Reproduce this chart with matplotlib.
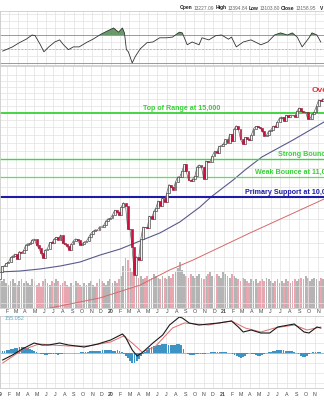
import numpy as np
import pandas as pd
import matplotlib
matplotlib.use("Agg")
import matplotlib.pyplot as plt
import matplotlib.transforms as mtrans

plt.rcParams['font.family'] = ['Liberation Sans', 'DejaVu Sans']

# weekly closes (week ending Friday), first week ends 2018-12-28
closes = [6584.5,
    6738.9, 6971.5, 7157.2, 7164.9, 7263.9, 7298.2, 7472.4, 7527.5, 7595.4, 7408.1,
    7688.5, 7642.7, 7729.3, 7938.7, 7984.2, 7998.1, 8146.4, 8164.0, 7916.9, 7816.3,
    7637.0, 7453.2, 7742.1, 7796.7, 8031.7, 8006.2, 8161.8, 8244.1, 8146.5, 8330.2,
    8004.1, 7959.1, 7896.0, 7751.8, 7962.9, 8103.1, 8176.7, 8117.7, 7939.6, 7982.5,
    8057.0, 8089.5, 8243.1, 8386.4, 8475.3, 8540.8, 8519.9, 8665.5, 8656.5, 8734.9,
    8925.0, 9006.6,
    9020.8, 9178.9, 9388.9, 9314.9, 9150.9, 9520.5, 9731.2, 9576.6, 8567.4, 8575.6,
    7874.9, 6879.5, 7502.4, 7373.1, 8153.6, 8650.1, 8634.5, 8605.0, 9121.3, 9014.6,
    9324.6, 9489.9, 9814.1, 9588.8, 9946.1, 9757.2, 10207.6, 10617.4, 10503.2, 10363.2,
    10745.3, 11011.0, 11019.3, 11311.8, 11695.6, 11313.1, 10853.6, 10793.3, 10913.6, 11075.0,
    11579.9, 11671.6, 11548.3, 10911.6, 11895.2, 11829.3, 11855.0, 12205.9, 12464.2, 12377.9,
    12755.6, 12804.7, 12888.3,
    13202.0, 12998.5, 13543.1, 13070.7, 13856.3, 14095.5, 13874.5, 13192.4, 12920.2, 13319.9,
    13215.2, 13138.7, 13480.1, 13900.2, 14052.3, 14016.8, 13962.7, 13752.2, 13430.0, 13471.0,
    13748.7, 13814.5, 14069.4, 14030.4, 14360.4, 14639.3, 14701.9, 14427.2, 14837.0, 14672.7,
    14835.8, 14822.9, 14714.7, 15129.5, 15363.5, 15115.5, 15044.0, 15047.7, 14566.7, 14579.5,
    14897.3, 15090.2, 15498.4, 15971.6, 15861.0, 16057.4]

# weekly volume, billions of shares
volume = [11, 12, 13, 14, 15, 13, 12, 14, 15, 13, 12, 14, 15, 13,
          14, 13, 12, 15, 14, 12, 13, 11, 14, 15, 13, 12, 14, 13,
          15, 14, 12, 13, 14, 12, 11, 13, 12, 14, 13, 12, 11, 13,
          12, 13, 14, 12, 11, 13, 15, 14, 13, 12, 14, 15, 13, 14,
          13, 15, 17, 22, 26, 25, 21, 19, 17, 18, 16, 17, 15, 16,
          17, 15, 16, 18, 17, 16, 15, 17, 16, 15, 17, 16, 18, 19,
          21, 24, 20, 18, 17, 16, 18, 17, 16, 17, 18, 16, 15, 17,
          18, 19, 17, 16, 18, 17, 16, 19, 18, 17, 16, 18, 17, 16,
          15, 14, 16, 15, 14, 13, 15, 14, 15, 13, 14, 15, 14, 16,
          15, 14, 13, 14, 15, 13, 14, 13, 15, 14, 13, 14, 15, 14,
          15, 16, 15, 17, 16, 14, 15, 16, 15, 14, 16, 15]

# MACD histogram, one bar per week
macd_hist = [15, 20,
    20, 25, 30, 35, 40,
    45, 50, 55, 60, 60, 60, 55, 50, 40,
    30, 20, 10, 0, -5,
    -10, -15, -15, -10, -10, -5, -10, -15, -10, -5, 0,
    0, 3, 5, 5, 5, 3, 5,
    10, 10, 15, 15, 20, 20, 20, 25, 25, 25, 30, 30, 30, 30, 30, 25, 25, 30, 20,
    10, -10, -30, -50,
    -80, -100, -100, -80, -60, -30, -10,
    10, 30, 50, 60, 70, 70, 80, 80, 90, 90, 90, 80, 80, 80, 80, 90, 90, 80, 40, 0,
    -10, -15, -20, -15, -10, -10, -5, -10, -5, 0,
    5, 10, 10, 15, 15, 10, 10, 15, 10, 5, 0, -10,
    -20, -30, -40, -50, -40, -30, -10,
    0, -5, -10,
    -20, -30, -30, -20, -10, 0,
    10, 15, 20, 25, 30, 30, 30, 30, 25, 25, 20, 20, 10, 5,
    -10, -30, -40, -40, -30, -10,
    5, 10, 15, 15, 10]

# RSI(14), position in months from Jan 2019
rsi_x = [0.29, 1.35, 2.09, 2.83, 3.47, 3.79, 4.32, 4.74, 5.27, 5.91, 6.44, 6.86, 7.39,
         7.92, 8.56, 9.3, 10.04, 10.89, 11.63, 12.27, 12.8, 13.22, 13.44, 13.65, 13.86,
         14.28, 14.6, 15.13, 15.87, 16.51, 17.25, 18.0, 18.63, 19.37, 19.69, 20.22, 20.75,
         21.5, 21.81, 22.55, 23.3, 23.93, 24.68, 25.0, 25.52, 26.27, 27.1, 28.18, 28.92,
         29.66, 30.3, 31.04, 31.57, 32.1, 32.63, 33.37, 33.69, 34.22, 34.64]
rsi_v = [47, 53, 59, 64, 70, 69, 57, 46, 53, 60, 63, 56, 49,
         53, 53, 59, 64, 71, 76, 80, 74, 80, 73, 49, 46,
         30, 39, 50, 59, 60, 66, 66, 67, 74, 73, 56, 60,
         56, 66, 63, 69, 70, 64, 67, 53, 60, 63, 56, 60,
         70, 73, 70, 73, 67, 53, 66, 73, 70, 60]

# MACD line and signal
macd_x = [0.29, 1.35, 2.41, 3.68, 4.53, 5.27, 6.44, 7.39, 9.09, 10.57, 11.95, 13.22, 13.54,
          14.28, 14.81, 15.45, 16.51, 17.57, 18.31, 19.37, 19.69, 20.43, 21.49, 22.55, 23.62,
          25.0, 25.74, 26.27, 27.12, 28.18, 29.13, 29.98, 31.78, 32.84, 33.37, 34.22, 34.64]
macd_v = [-70, -20, 40, 100, 80, 80, 100, 80, 60, 90, 130, 190, 160,
          30, -30, 10, 100, 180, 280, 360, 350, 300, 280, 290, 300,
          320, 260, 210, 230, 200, 200, 260, 290, 210, 200, 260, 250]
sig_x = [0.29, 2.41, 4.21, 5.59, 7.39, 9.51, 11.95, 13.33, 14.28, 15.34, 16.72, 18.63,
         19.9, 21.18, 22.55, 23.62, 25.0, 26.48, 28.18, 29.66, 31.78, 33.16, 34.64]
sig_v = [-100, 30, 90, 80, 70, 70, 110, 170, 100, 10, 60, 250,
         300, 290, 280, 300, 320, 250, 210, 250, 280, 230, 260]

# moving averages
ma_long_x = [0.29, 2.41, 4.53, 6.65, 8.77, 10.89, 13.01, 15.13, 17.25, 19.37, 21.49,
             22.66, 25.0, 26.27, 28.07, 31.36, 34.64]
ma_long_v = [6970, 7000, 7070, 7170, 7310, 7560, 7780, 8090, 8410, 8870, 9530,
             10000, 10850, 11390, 12130, 13160, 14350]
ma_xlong_x = [4.53, 5.06, 10.89, 15.13, 18.31, 20.75, 26.8, 32.1, 34.64]
ma_xlong_v = [5750, 5830, 6150, 6540, 7040, 7380, 8410, 9390, 9900]

levels = [15000, 12000, 11000, 10000]
level_labels = ['Top of Range at 15,000', 'Strong Bounce at 12,000',
                'Weak Bounce at 11,000', 'Primary Support at 10,000']

header = [('Open', '13227.09'), ('High', '13394.84'), ('Low', '13103.80'),
          ('Close', '13158.95')]

base = pd.Timestamp('2019-01-01')
weeks = pd.date_range('2018-12-28', periods=len(closes), freq='W-FRI')
wx = ((weeks - base).days.values - 2) / 30.437
months = pd.date_range('2019-01-01', '2021-12-01', freq='MS')
mx = (months - base).days.values / 30.437
mlab = []
for d in months:
    if d.month == 1:
        mlab.append(str(d.year)[2:])
    else:
        mlab.append('JFMAMJJASOND'[d.month - 1])

XL = (0.29, 34.64)
grid_c = '#e2e2e2'
green = '#36d236'

fig = plt.figure(figsize=(3.24, 4.0), dpi=100)
ax_r = fig.add_axes([0, 1 - 65 / 400, 1, 54 / 400])
ax_m = fig.add_axes([0, 1 - 308 / 400, 1, 242 / 400])
ax_d = fig.add_axes([0, 1 - 388 / 400, 1, 72 / 400])

for a in (ax_r, ax_m, ax_d):
    a.set_xlim(*XL)
    a.set_xticks(mx)
    a.tick_params(length=0, labelbottom=False, labelleft=False)
    a.grid(True, color=grid_c, lw=0.5)
    a.set_axisbelow(True)
    for s in a.spines.values():
        s.set_color('#cccccc')
        s.set_linewidth(0.6)

# ---- RSI panel
ax_r.set_ylim(27.1, 104.3)
ax_r.set_yticks([40, 50, 60, 80, 90, 100])
ax_r.axhline(70, color='#999999', lw=0.7)
ax_r.axhline(30, color='#999999', lw=0.7)
ax_r.axhline(50, color='#aaaaaa', lw=0.5, ls=(0, (3, 2)))
rv = np.array(rsi_v, dtype=float)
ax_r.fill_between(rsi_x, rv, 70, where=rv > 70, interpolate=True, color='#4f8a4f', alpha=0.85, lw=0)
ax_r.plot(rsi_x, rv, color='#333333', lw=0.6)

# ---- price panel
ax_m.set_yscale('log')
ax_m.set_ylim(5858, 18794)
ax_m.yaxis.set_minor_locator(plt.NullLocator())
ax_m.set_yticks([6000, 6500, 7000, 7500, 8000, 8500, 9000, 9500, 10500, 11500, 12500,
                 13000, 13500, 14000, 14500, 15500, 16000, 16500, 17000, 17500, 18000])

ax_v = ax_m.twinx()
ax_v.set_ylim(0, 127)
ax_v.set_xlim(*XL)
ax_v.axis('off')
c = np.array(closes)
up = np.r_[True, c[1:] >= c[:-1]]
vcol = np.where(up, '#b4b4b4', '#eaa6b0')
ax_v.bar(wx, volume, width=0.19, color=vcol, lw=0)
ax_v.set_zorder(ax_m.get_zorder())
ax_m.set_zorder(ax_v.get_zorder() + 1)
ax_m.patch.set_visible(False)

ax_m.plot(ma_long_x, ma_long_v, color='#5a5a8c', lw=0.8)
ax_m.plot(ma_xlong_x, ma_xlong_v, color='#d46a6a', lw=0.7)

ax_m.axhline(levels[0], color=green, lw=1.3)
ax_m.axhline(levels[1], color='#3ed83e', lw=1.0)
ax_m.axhline(levels[2], color='#5ee05e', lw=0.9)
ax_m.axhline(levels[3], color='#1c1ca8', lw=1.5)

o = c[:-1]
cl = c[1:]
lo = np.minimum(o, cl)
hi = np.maximum(o, cl)
dn = cl < o
ax_m.plot(wx, c, color='#666666', lw=0.5, zorder=2)
ax_m.bar(wx[1:][~dn], (hi - lo)[~dn], bottom=lo[~dn], width=0.2,
         color='#f4f4f4', edgecolor='#3a3a3a', lw=0.45, zorder=3)
ax_m.bar(wx[1:][dn], (hi - lo)[dn], bottom=lo[dn], width=0.2,
         color='#cf0f3e', edgecolor='#a00a30', lw=0.4, zorder=3)

tf = dict(fontsize=5.1, fontweight='bold', va='bottom')
ax_m.text(15.45, levels[0] * 1.006, level_labels[0], color=green, **tf)
ax_m.text(29.8, levels[1] * 1.006, level_labels[1], color=green, **tf)
ax_m.text(27.3, levels[2] * 1.006, level_labels[2], color=green, **tf)
ax_m.text(26.3, levels[3] * 1.006, level_labels[3], color='#1c1ca8', **tf)
ax_m.text(33.3, 16400, 'Overbought', color='#e03040', fontsize=6, fontweight='bold', va='bottom')

# ---- MACD panel
ax_d.set_ylim(-350, 370)
ax_d.set_yticks([-300, -200, -100, 100, 200, 300])
ax_d.bar(wx, macd_hist, width=0.2, color='#3c93c4', lw=0)
ax_d.axhline(0, color='#3c93c4', lw=0.4)
ax_d.plot(sig_x, sig_v, color='#e06c6c', lw=0.7)
ax_d.plot(macd_x, macd_v, color='#1a1a1a', lw=0.8)
ax_d.text(0.55, 345, '155.052', color='#5aa8c8', fontsize=4, va='center')

# month labels
for a, off in ((ax_m, -0.016), (ax_d, -0.085)):
    tr = mtrans.blended_transform_factory(a.transData, a.transAxes)
    for xm, lab in zip(mx, mlab):
        if XL[0] - 0.6 < xm < XL[1]:
            a.text(xm, off, lab, transform=tr, ha='center', va='center', fontsize=3.8,
                   color='#444444', fontweight='bold' if len(lab) == 2 else 'normal',
                   clip_on=False)

# header: laid out to run from x=180 to x=316, then the cut-off "V"
fig.canvas.draw()
rend = fig.canvas.get_renderer()
hy = 1 - 8 / 400
parts = []
for lab, val in header:
    parts.append((lab, True))
    parts.append((val, False))
texts = [fig.text(0, hy, s, fontsize=3.5, va='center', fontweight='bold' if b else 'normal',
                  color='#1a1a1a' if b else '#666666') for s, b in parts]
widths = [t.get_window_extent(rend).width for t in texts]
gap = (316 - 180 - sum(widths)) / (len(texts) - 1)
xp = 180.0
for t, w in zip(texts, widths):
    t.set_x(xp / 324)
    xp += w + gap
fig.text(320 / 324, hy, 'V', fontsize=3.5, va='center', fontweight='bold', color='#1a1a1a')

fig.savefig('out.png', dpi=100)
